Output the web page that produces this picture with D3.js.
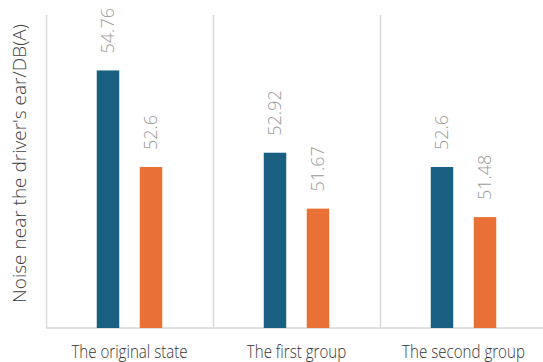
<!DOCTYPE html>
<html>
<head>
<meta charset="utf-8">
<script src="https://cdn.jsdelivr.net/npm/d3@7"></script>
<style>
  body { margin: 0; background: #fff; }
  svg { display: block; }
</style>
</head>
<body>
<div class="graphics"></div>
<script>
var categories = ["The original state", "The first group", "The second group"]
var series = ["before", "after"]
var beforeValues = [54.76, 52.92, 52.6]
var afterValues = [52.6, 51.67, 51.48]
var yLabel = "Noise near the driver's ear/DB(A)"

var colors = ["#185f82", "#ea7135"]

var w = 543, h = 362
var mLeft = 46, mRight = 547, mTop = 15, mBottom = 328

var data = categories.map(function(c, i){
    return {cat: c, vals: [beforeValues[i], afterValues[i]]}
})

var svg = d3.select('.graphics')
    .append('svg')
    .attr("width", w)
    .attr("height", h)

var x0 = d3.scaleBand()
    .domain(categories)
    .range([mLeft, mRight])
    .padding(0)

var x1 = d3.scaleBand()
    .domain(series)
    .range([0, x0.bandwidth()])
    .paddingInner(0.477)
    .paddingOuter(1.18)

var y = d3.scaleLinear()
    .domain([49, 56])
    .range([mBottom, mTop])

// separators between categories
svg.selectAll('.sep')
    .data(categories)
    .enter()
    .append('line')
    .attr('class', 'sep')
    .attr('x1', function(d){ return x0(d) + 0.5 })
    .attr('x2', function(d){ return x0(d) + 0.5 })
    .attr('y1', mTop)
    .attr('y2', mBottom)
    .attr('stroke', '#d9d9d9')
    .attr('stroke-width', 1.5)

// baseline
svg.append('line')
    .attr('x1', mLeft)
    .attr('x2', w)
    .attr('y1', mBottom)
    .attr('y2', mBottom)
    .attr('stroke', '#d9d9d9')
    .attr('stroke-width', 1.5)

var groups = svg.selectAll('.grp')
    .data(data)
    .enter()
    .append('g')
    .attr('class', 'grp')
    .attr('transform', function(d){ return 'translate(' + x0(d.cat) + ',0)' })

var cells = function(d){
    return d.vals.map(function(v, i){ return {key: series[i], v: v, i: i} })
}

groups.selectAll('rect')
    .data(cells)
    .enter()
    .append('rect')
    .attr('x', function(d){ return x1(d.key) })
    .attr('width', x1.bandwidth())
    .attr('y', function(d){ return y(d.v) })
    .attr('height', function(d){ return y(49) - y(d.v) })
    .attr('fill', function(d){ return colors[d.i] })

groups.selectAll('text.val')
    .data(cells)
    .enter()
    .append('text')
    .attr('class', 'val')
    .attr('transform', function(d){
        return 'translate(' + (x1(d.key) + x1.bandwidth() / 2) + ',' + (y(d.v) - 17) + ') rotate(-90)'
    })
    .attr('dy', '0.35em')
    .attr('font-family', '"Open Sans", Lato, sans-serif')
    .attr('font-weight', 300)
    .attr('font-size', 18)
    .attr('fill', '#9a9a9a')
    .text(function(d){ return d.v })

// category labels (condensed look)
svg.selectAll('.cat')
    .data(categories)
    .enter()
    .append('text')
    .attr('class', 'cat')
    .attr('transform', function(d){
        return 'translate(' + (x0(d) + x0.bandwidth() / 2) + ',357.5) scale(0.84,1)'
    })
    .attr('text-anchor', 'middle')
    .attr('font-family', '"Open Sans", sans-serif')
    .attr('font-weight', 300)
    .attr('font-size', 18)
    .attr('fill', '#333')
    .text(function(d){ return d })

// y axis title
svg.append('text')
    .attr('transform', 'translate(26,' + ((mTop + 312) / 2) + ') rotate(-90)')
    .attr('text-anchor', 'middle')
    .attr('font-family', '"Open Sans", Lato, sans-serif')
    .attr('font-weight', 300)
    .attr('font-size', 19)
    .attr('fill', '#404040')
    .text(yLabel)
</script>
</body>
</html>
